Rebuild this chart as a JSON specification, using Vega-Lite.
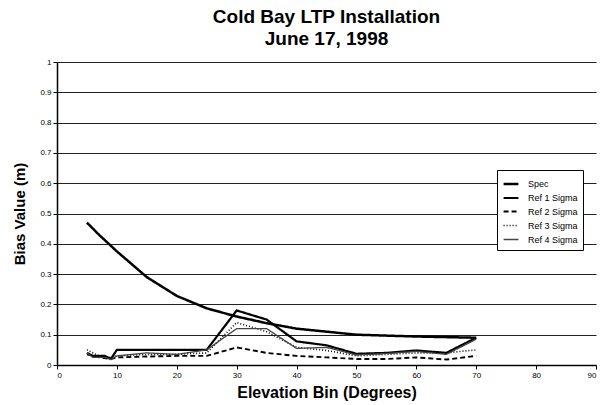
{
  "$schema": "https://vega.github.io/schema/vega-lite/v6.json",
  "width": 539,
  "height": 303,
  "autosize": "none",
  "padding": {"left": 57, "top": 62, "right": 9, "bottom": 40},
  "background": "white",
  "title": {
    "text": ["Cold Bay LTP Installation", "June 17, 1998"],
    "font": "Liberation Sans",
    "fontSize": 19,
    "fontWeight": "bold",
    "color": "black",
    "lineHeight": 22,
    "offset": 9,
    "anchor": "middle"
  },
  "config": {
    "view": {"stroke": null},
    "font": "Liberation Sans"
  },
  "data": {
    "values": [
      {"bin": 5, "series": "Spec", "v": 0.47},
      {"bin": 7, "series": "Spec", "v": 0.43},
      {"bin": 10, "series": "Spec", "v": 0.375},
      {"bin": 15, "series": "Spec", "v": 0.29},
      {"bin": 20, "series": "Spec", "v": 0.228},
      {"bin": 25, "series": "Spec", "v": 0.187},
      {"bin": 30, "series": "Spec", "v": 0.16},
      {"bin": 35, "series": "Spec", "v": 0.138},
      {"bin": 40, "series": "Spec", "v": 0.12},
      {"bin": 45, "series": "Spec", "v": 0.11},
      {"bin": 50, "series": "Spec", "v": 0.1},
      {"bin": 55, "series": "Spec", "v": 0.097},
      {"bin": 60, "series": "Spec", "v": 0.094},
      {"bin": 65, "series": "Spec", "v": 0.092},
      {"bin": 70, "series": "Spec", "v": 0.09},

      {"bin": 5, "series": "Ref 1 Sigma", "v": 0.04},
      {"bin": 6, "series": "Ref 1 Sigma", "v": 0.03},
      {"bin": 7, "series": "Ref 1 Sigma", "v": 0.03},
      {"bin": 8, "series": "Ref 1 Sigma", "v": 0.03},
      {"bin": 9, "series": "Ref 1 Sigma", "v": 0.02},
      {"bin": 10, "series": "Ref 1 Sigma", "v": 0.05},
      {"bin": 15, "series": "Ref 1 Sigma", "v": 0.05},
      {"bin": 20, "series": "Ref 1 Sigma", "v": 0.05},
      {"bin": 25, "series": "Ref 1 Sigma", "v": 0.05},
      {"bin": 30, "series": "Ref 1 Sigma", "v": 0.18},
      {"bin": 35, "series": "Ref 1 Sigma", "v": 0.15},
      {"bin": 40, "series": "Ref 1 Sigma", "v": 0.078},
      {"bin": 45, "series": "Ref 1 Sigma", "v": 0.065},
      {"bin": 50, "series": "Ref 1 Sigma", "v": 0.037},
      {"bin": 55, "series": "Ref 1 Sigma", "v": 0.04},
      {"bin": 60, "series": "Ref 1 Sigma", "v": 0.048},
      {"bin": 65, "series": "Ref 1 Sigma", "v": 0.04},
      {"bin": 70, "series": "Ref 1 Sigma", "v": 0.09},

      {"bin": 5, "series": "Ref 2 Sigma", "v": 0.035},
      {"bin": 7, "series": "Ref 2 Sigma", "v": 0.025},
      {"bin": 9, "series": "Ref 2 Sigma", "v": 0.02},
      {"bin": 10, "series": "Ref 2 Sigma", "v": 0.025},
      {"bin": 15, "series": "Ref 2 Sigma", "v": 0.028},
      {"bin": 20, "series": "Ref 2 Sigma", "v": 0.03},
      {"bin": 25, "series": "Ref 2 Sigma", "v": 0.03},
      {"bin": 30, "series": "Ref 2 Sigma", "v": 0.058},
      {"bin": 35, "series": "Ref 2 Sigma", "v": 0.04},
      {"bin": 40, "series": "Ref 2 Sigma", "v": 0.03},
      {"bin": 45, "series": "Ref 2 Sigma", "v": 0.025},
      {"bin": 50, "series": "Ref 2 Sigma", "v": 0.02},
      {"bin": 55, "series": "Ref 2 Sigma", "v": 0.02},
      {"bin": 60, "series": "Ref 2 Sigma", "v": 0.025},
      {"bin": 65, "series": "Ref 2 Sigma", "v": 0.018},
      {"bin": 70, "series": "Ref 2 Sigma", "v": 0.03},

      {"bin": 5, "series": "Ref 3 Sigma", "v": 0.05},
      {"bin": 7, "series": "Ref 3 Sigma", "v": 0.03},
      {"bin": 9, "series": "Ref 3 Sigma", "v": 0.025},
      {"bin": 10, "series": "Ref 3 Sigma", "v": 0.03},
      {"bin": 15, "series": "Ref 3 Sigma", "v": 0.035},
      {"bin": 20, "series": "Ref 3 Sigma", "v": 0.035},
      {"bin": 25, "series": "Ref 3 Sigma", "v": 0.04},
      {"bin": 30, "series": "Ref 3 Sigma", "v": 0.14},
      {"bin": 35, "series": "Ref 3 Sigma", "v": 0.11},
      {"bin": 40, "series": "Ref 3 Sigma", "v": 0.058},
      {"bin": 45, "series": "Ref 3 Sigma", "v": 0.048},
      {"bin": 50, "series": "Ref 3 Sigma", "v": 0.03},
      {"bin": 55, "series": "Ref 3 Sigma", "v": 0.035},
      {"bin": 60, "series": "Ref 3 Sigma", "v": 0.04},
      {"bin": 65, "series": "Ref 3 Sigma", "v": 0.04},
      {"bin": 70, "series": "Ref 3 Sigma", "v": 0.05},

      {"bin": 5, "series": "Ref 4 Sigma", "v": 0.04},
      {"bin": 6, "series": "Ref 4 Sigma", "v": 0.025},
      {"bin": 7, "series": "Ref 4 Sigma", "v": 0.025},
      {"bin": 8, "series": "Ref 4 Sigma", "v": 0.025},
      {"bin": 9, "series": "Ref 4 Sigma", "v": 0.018},
      {"bin": 10, "series": "Ref 4 Sigma", "v": 0.03},
      {"bin": 15, "series": "Ref 4 Sigma", "v": 0.04},
      {"bin": 20, "series": "Ref 4 Sigma", "v": 0.035},
      {"bin": 25, "series": "Ref 4 Sigma", "v": 0.05},
      {"bin": 30, "series": "Ref 4 Sigma", "v": 0.12},
      {"bin": 35, "series": "Ref 4 Sigma", "v": 0.12},
      {"bin": 40, "series": "Ref 4 Sigma", "v": 0.055},
      {"bin": 45, "series": "Ref 4 Sigma", "v": 0.058},
      {"bin": 50, "series": "Ref 4 Sigma", "v": 0.033},
      {"bin": 55, "series": "Ref 4 Sigma", "v": 0.038},
      {"bin": 60, "series": "Ref 4 Sigma", "v": 0.045},
      {"bin": 65, "series": "Ref 4 Sigma", "v": 0.035},
      {"bin": 70, "series": "Ref 4 Sigma", "v": 0.085}
    ]
  },
  "mark": {"type": "line", "interpolate": "linear"},
  "encoding": {
    "x": {
      "field": "bin",
      "type": "quantitative",
      "scale": {"domain": [0, 90], "nice": false},
      "axis": {
        "title": "Elevation Bin (Degrees)",
        "titleFont": "Liberation Sans",
        "titleFontSize": 16,
        "titleFontWeight": "bold",
        "titleColor": "black",
        "titlePadding": 5,
        "values": [0, 10, 20, 30, 40, 50, 60, 70, 80, 90],
        "labelFontSize": 8,
        "labelColor": "black",
        "domainColor": "black",
        "domainWidth": 1.5,
        "tickColor": "black",
        "tickSize": 4,
        "grid": false
      }
    },
    "y": {
      "field": "v",
      "type": "quantitative",
      "scale": {"domain": [0, 1], "nice": false},
      "axis": {
        "title": "Bias Value (m)",
        "titleFont": "Liberation Sans",
        "titleFontSize": 15,
        "titleFontWeight": "bold",
        "titleColor": "black",
        "titlePadding": 12,
        "values": [0, 0.1, 0.2, 0.3, 0.4, 0.5, 0.6, 0.7, 0.8, 0.9, 1],
        "format": ".1~f",
        "labelFontSize": 8,
        "labelColor": "black",
        "domainColor": "black",
        "domainWidth": 1.5,
        "tickColor": "black",
        "tickSize": 4,
        "grid": true,
        "gridColor": "#222",
        "gridWidth": 1
      }
    },
    "color": {
      "field": "series",
      "type": "nominal",
      "scale": {
        "domain": ["Spec", "Ref 1 Sigma", "Ref 2 Sigma", "Ref 3 Sigma", "Ref 4 Sigma"],
        "range": ["black", "black", "black", "black", "#444"]
      },
      "legend": {
        "title": null,
        "orient": "none",
        "legendX": 440,
        "legendY": 108,
        "fillColor": "white",
        "strokeColor": "black",
        "padding": 5,
        "labelFontSize": 9,
        "labelColor": "black",
        "labelOffset": 8,
        "symbolType": "stroke",
        "symbolSize": 220,
        "rowPadding": 0
      }
    },
    "strokeDash": {
      "field": "series",
      "type": "nominal",
      "scale": {
        "domain": ["Spec", "Ref 1 Sigma", "Ref 2 Sigma", "Ref 3 Sigma", "Ref 4 Sigma"],
        "range": [[1, 0], [1, 0], [5, 3], [1, 2], [1, 0]]
      }
    },
    "strokeWidth": {
      "field": "series",
      "type": "nominal",
      "scale": {
        "domain": ["Spec", "Ref 1 Sigma", "Ref 2 Sigma", "Ref 3 Sigma", "Ref 4 Sigma"],
        "range": [2.5, 1.3, 1, 1, 1]
      }
    }
  }
}
